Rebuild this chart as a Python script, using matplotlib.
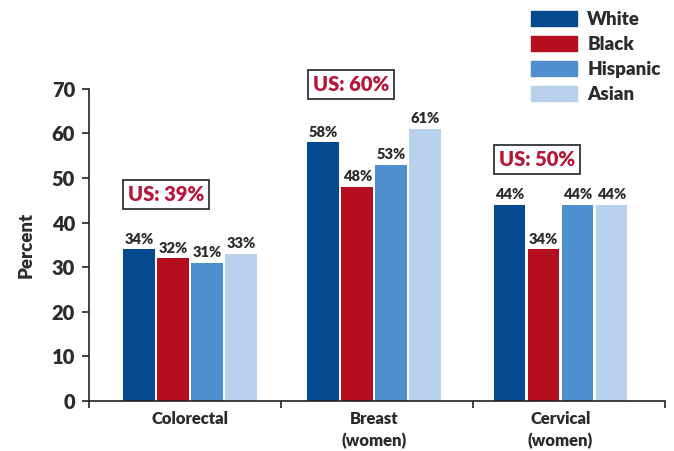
import numpy as np
import matplotlib.pyplot as plt
from matplotlib.patches import Patch

plt.rcParams['font.family'] = ['Lato', 'DejaVu Sans']
plt.rcParams['font.weight'] = 'heavy'

# Screening rates by group
categories = ["Colorectal", "Breast\n(women)", "Cervical\n(women)"]
groups = ["White", "Black", "Hispanic", "Asian"]
white = [34, 58, 44]
black = [32, 48, 34]
hispanic = [31, 53, 44]
asian = [33, 61, 44]
us_rate = [39, 60, 50]

colors = ["#034a8f", "#b50e1e", "#4f8fce", "#b7d1ec"]
text_color = "#2b2b2b"
wt = "heavy"

fig = plt.figure(figsize=(6.74, 4.51), dpi=100)
ax = fig.add_axes([0.132, 0.111, 0.855, 0.692])

centers = np.array([0.525, 1.485, 2.455])
width = 0.165
step = 0.177
series = [white, black, hispanic, asian]
for k, vals in enumerate(series):
    xs = centers + (k - 1.5) * step
    ax.bar(xs, vals, width=width, color=colors[k])
    for x, v in zip(xs, vals):
        ax.text(x, v + 0.8, f"{v}%", ha="center", va="bottom",
                fontsize=10.5, fontweight=wt, color=text_color)

# National average boxes
us_y = [46.2, 71.0, 54.2]
for c, u, y in zip(centers, us_rate, us_y):
    ax.text(c - 1.5 * step - width / 2 + 0.027, y, f"US: {u}%", ha="left", va="center",
            fontsize=14.5, fontweight=wt, color="#b5173a",
            bbox=dict(boxstyle="square,pad=0.25", fc="white", ec="#333333", lw=1.3),
            clip_on=False)

ax.set_xlim(0, 3)
ax.set_ylim(0, 70)
ax.set_yticks(range(0, 71, 10))
ax.set_xticks([0, 1, 2, 3])
ax.set_xticklabels([])
ax.set_xticks(centers, minor=True)
ax.set_xticklabels(categories, minor=True, fontsize=12, fontweight=wt,
                   color=text_color, linespacing=1.45)
ax.tick_params(axis="x", which="minor", length=0, pad=7)
ax.tick_params(axis="x", which="major", length=5, width=1.2, color="#222222")
ax.tick_params(axis="y", length=5, width=1.2, color="#222222", pad=5,
               labelsize=14.5)
for lab in ax.get_yticklabels():
    lab.set_fontweight(wt)
    lab.set_color(text_color)

for s in ["top", "right"]:
    ax.spines[s].set_visible(False)
for s in ["left", "bottom"]:
    ax.spines[s].set_linewidth(1.2)
    ax.spines[s].set_color("#222222")

ax.set_ylabel("Percent", fontsize=13.5, fontweight=wt, color=text_color, labelpad=12)

handles = [Patch(color=c) for c in colors]
leg = fig.legend(handles, groups, loc="upper left", bbox_to_anchor=(0.763, 1.013),
                 frameon=False, handlelength=2.45, handleheight=0.85,
                 labelspacing=0.42, handletextpad=0.55, fontsize=13.5)
for t in leg.get_texts():
    t.set_fontweight(wt)
    t.set_color(text_color)

fig.savefig("out.png", dpi=100)
